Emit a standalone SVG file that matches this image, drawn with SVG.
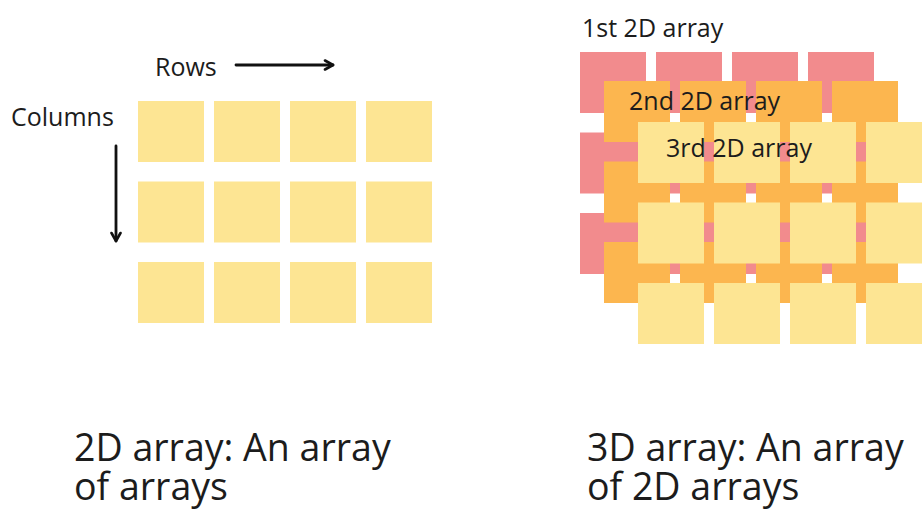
<svg xmlns="http://www.w3.org/2000/svg" width="922" height="509" viewBox="0 0 922 509">
<style>
text{font-family:"Open Sans","Liberation Sans",sans-serif;fill:#1c1c1c}
.lbl{font-size:25px}
.cap{font-size:37.5px}
.y{fill:#fde593}
.o{fill:#fcb64f}
.r{fill:#f28b8d}
.arr{stroke:#111;stroke-width:2.8;fill:none;stroke-linecap:round}
</style>
<defs>
<marker id="ah" viewBox="0 0 12 12" refX="10" refY="6" markerWidth="12" markerHeight="12" markerUnits="userSpaceOnUse" orient="auto">
<path d="M2,1.5 L10,6 L2,10.5" fill="none" stroke="#111" stroke-width="2.6" stroke-linecap="round" stroke-linejoin="round"/>
</marker>
<g id="grid">
<rect x="0" y="0" width="66" height="61"/><rect x="76" y="0" width="66" height="61"/><rect x="152" y="0" width="66" height="61"/><rect x="228" y="0" width="66" height="61"/>
<rect x="0" y="80.5" width="66" height="61"/><rect x="76" y="80.5" width="66" height="61"/><rect x="152" y="80.5" width="66" height="61"/><rect x="228" y="80.5" width="66" height="61"/>
<rect x="0" y="161" width="66" height="61"/><rect x="76" y="161" width="66" height="61"/><rect x="152" y="161" width="66" height="61"/><rect x="228" y="161" width="66" height="61"/>
</g>
</defs>
<rect width="922" height="509" fill="#fff"/>
<g id="array2d">
<use href="#grid" class="y" x="138" y="101"/>
</g>
<g id="array3d-layer1">
<use href="#grid" class="r" x="580" y="52"/>
</g>
<g id="array3d-layer2">
<use href="#grid" class="o" x="604" y="81"/>
</g>
<g id="array3d-layer3">
<use href="#grid" class="y" x="638" y="122"/>
</g>
<g id="connectors">
<line class="arr" x1="236" y1="65" x2="333" y2="65" marker-end="url(#ah)"/>
<line class="arr" x1="116" y1="146" x2="116" y2="241" marker-end="url(#ah)"/>
</g>
<g id="labels">
<text class="lbl" x="155" y="76">Rows</text>
<text class="lbl" x="11" y="126">Columns</text>
<text class="lbl" x="582" y="37">1st 2D array</text>
<text class="lbl" x="629" y="110">2nd 2D array</text>
<text class="lbl" x="666" y="157">3rd 2D array</text>
<text class="cap" x="74" y="461">2D array: An array</text>
<text class="cap" x="74" y="500">of arrays</text>
<text class="cap" x="587" y="461">3D array: An array</text>
<text class="cap" x="587" y="500">of 2D arrays</text>
</g>
</svg>
